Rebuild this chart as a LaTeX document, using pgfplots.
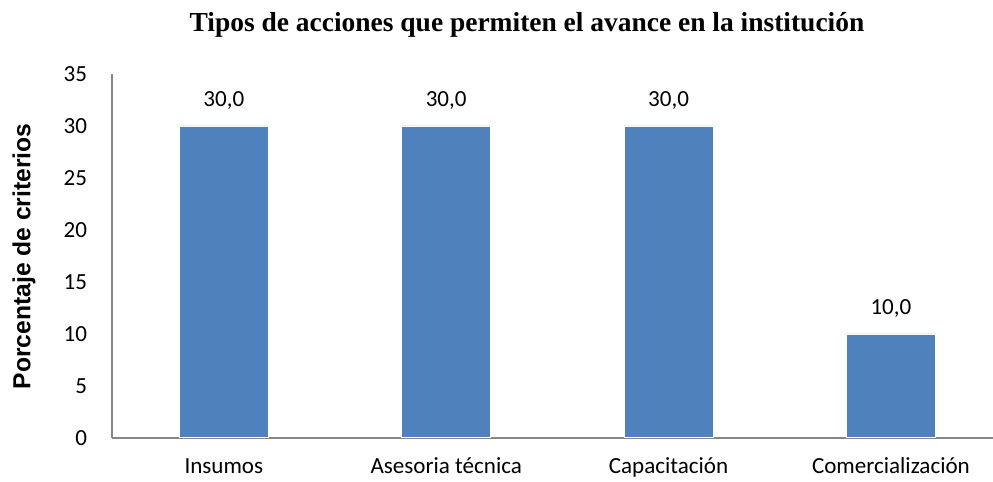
\documentclass[border=0pt]{standalone}
\usepackage{pgfplots}
\pgfplotsset{compat=1.18}
\usepackage{fontspec}
\setmainfont{Carlito}
\newfontfamily\titlefont{Liberation Serif}
\newfontfamily\labelfont{Liberation Sans}
\definecolor{barblue}{HTML}{4F81BD}
\definecolor{axgray}{HTML}{868686}
\begin{document}
\begin{tikzpicture}
\begin{axis}[
  at={(0,0)}, anchor=south west,
  scale only axis,
  width=660.75pt, height=272.8pt,
  xmin=-0.503, xmax=3.459,
  ymin=0, ymax=35,
  ytick={0,5,...,35},
  xtick={0,1,2,3},
  xticklabels={Insumos, Asesoria técnica, Capacitación, Comercialización},
  axis x line*=bottom, axis y line*=left,
  axis line style={axgray, line width=1.5pt},
  x axis line style={-}, y axis line style={-},
  major tick length=0pt,
  tick style={draw=none},
  /pgf/number format/assume math mode=true,
  ticklabel style={font=\fontsize{17.3}{19}\selectfont},
  yticklabel style={anchor=east, inner sep=0pt, xshift=-18.5pt},
  xticklabel style={anchor=base, inner sep=0pt, yshift=-27.2pt},
  clip=false,
]
\addplot[ybar, bar width=0.4, fill=barblue, draw=white, line width=0.4pt,
  nodes near coords,
  nodes near coords style={font=\fontsize{17.3}{19}\selectfont, anchor=center, yshift=19pt,
    /pgf/number format/.cd, fixed, fixed zerofill, precision=1, use comma, assume math mode=true},
] coordinates {(0,30) (1,30) (2,30) (3,10)};
\end{axis}
\node[font=\titlefont\bfseries\fontsize{20.6}{22}\selectfont] at (311.25pt,309.5pt) {Tipos de acciones que permiten el avance en la institución};
\node[font=\labelfont\bfseries\fontsize{18.5}{20}\selectfont, rotate=90] at (-66pt,136pt) {Porcentaje de criterios};
\pgfresetboundingbox
\useasboundingbox (-84pt,-32.5pt) rectangle (660.75pt,328.3pt);
\end{tikzpicture}
\end{document}
